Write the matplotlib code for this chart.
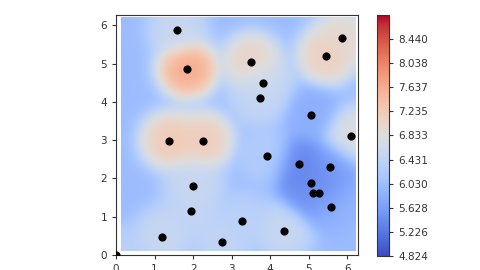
import numpy as np
import matplotlib
matplotlib.use("Agg")
import matplotlib.pyplot as plt
from matplotlib.colors import Normalize

# sample locations and measured values
pt_x = [1.58, 1.84, 3.51, 3.82, 3.74, 5.44, 5.87, 5.06, 6.10, 1.38, 2.27, 3.92, 4.75,
        5.55, 5.06, 5.12, 5.27, 5.58, 2.01, 1.95, 3.28, 4.37, 1.20, 2.74, 0.00]
pt_y = [5.89, 4.87, 5.04, 4.50, 4.09, 5.19, 5.68, 3.65, 3.11, 2.99, 2.99, 2.59, 2.38,
        2.30, 1.87, 1.61, 1.61, 1.26, 1.81, 1.14, 0.88, 0.63, 0.48, 0.34, 0.00]
pt_val = [6.6, 7.8, 7.2, 6.6, 6.5, 7.25, 7.05, 5.8, 6.9, 7.35, 7.3, 6.3, 5.3,
          5.6, 5.3, 5.5, 5.5, 5.9, 6.6, 6.5, 6.4, 6.6, 6.6, 6.5, 6.4]
background = 6.0

cbar_ticks = [4.824, 5.226, 5.628, 6.030, 6.431, 6.833, 7.235, 7.637, 8.038, 8.440]
vmin, vmax = 4.824, 8.842

# smooth surface from the samples (kernel weighted average)
px = np.array(pt_x)
py = np.array(pt_y)
pv = np.array(pt_val)
gx, gy = np.meshgrid(np.linspace(0.12, 6.2, 200), np.linspace(0.11, 6.2, 200))
d2 = (gx[..., None] - px) ** 2 + (gy[..., None] - py) ** 2
k = np.exp(-d2 / (2 * 0.36 ** 2))
w0 = 0.12
field = (w0 * background + (k * pv).sum(-1)) / (w0 + k.sum(-1))

fig = plt.figure(figsize=(4.8, 2.7), dpi=100)
ax = fig.add_axes([0.2417, 0.0556, 0.5042, 0.8889])
cax = fig.add_axes([0.7854, 0.0519, 0.025, 0.8926])

norm = Normalize(vmin=vmin, vmax=vmax)
im = ax.imshow(field, origin="lower", extent=[0.12, 6.2, 0.11, 6.2],
               cmap="coolwarm", norm=norm, interpolation="bicubic", aspect="auto")
ax.scatter(px, py, s=24, color="black", zorder=3)
ax.set_xlim(0, 6.28)
ax.set_ylim(0, 6.27)
ax.set_xticks(range(7))
ax.set_yticks(range(7))
ax.tick_params(labelsize=7.5, colors="#333333", length=3)
for s in ax.spines.values():
    s.set_color("#333333")

cb = fig.colorbar(im, cax=cax, ticks=cbar_ticks)
cb.ax.set_yticklabels([f"{t:.3f}" for t in cbar_ticks])
cb.ax.tick_params(labelsize=7.5, colors="#333333", length=3)
cb.outline.set_edgecolor("#333333")

plt.savefig("out.png", dpi=100)
